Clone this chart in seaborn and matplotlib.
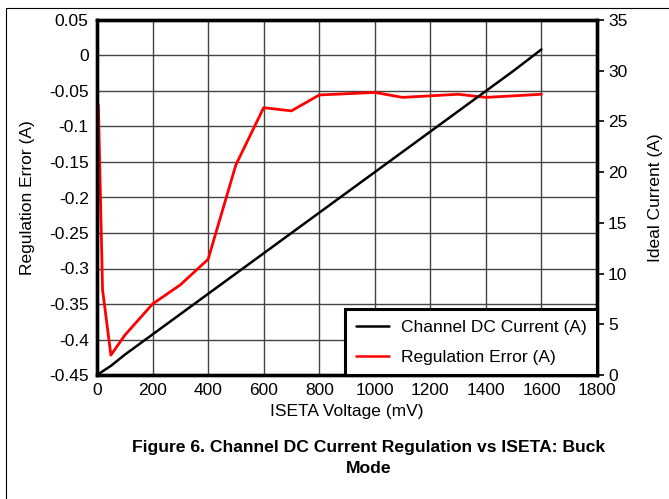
import matplotlib
matplotlib.use("Agg")
import matplotlib.pyplot as plt
import seaborn as sns
import pandas as pd
from matplotlib.lines import Line2D

sns.set_theme(style="white")
plt.rcParams['font.family'] = ['Liberation Sans', 'DejaVu Sans']
plt.rcParams['axes.unicode_minus'] = False
plt.rcParams['text.color'] = 'black'
plt.rcParams['axes.labelcolor'] = 'black'

# Data
err_mv = [5, 20, 50, 100, 200, 300, 400, 500, 600, 700, 800, 1000, 1100, 1300, 1400, 1600]
err_a = [-0.07, -0.33, -0.422, -0.394, -0.35, -0.323, -0.287, -0.154, -0.0735,
         -0.078, -0.0556, -0.052, -0.059, -0.0546, -0.059, -0.0546]
cur_mv = [0, 50, 100, 200, 300, 400, 500, 600, 700, 800, 900, 1000, 1100, 1200, 1300, 1400, 1500, 1600]
cur_a = [0, 0.9, 2, 4, 6, 8, 10, 12, 14, 16, 18, 20, 22, 24, 26, 28, 30, 32.1]

x_ticks = list(range(0, 1801, 200))
left_ticks = [0.05, 0, -0.05, -0.1, -0.15, -0.2, -0.25, -0.3, -0.35, -0.4, -0.45]
left_labels = ["0.05", "0", "-0.05", "-0.1", "-0.15", "-0.2", "-0.25", "-0.3", "-0.35", "-0.4", "-0.45"]
right_ticks = [0, 5, 10, 15, 20, 25, 30, 35]

df_err = pd.DataFrame({"mv": err_mv, "err": err_a})
df_cur = pd.DataFrame({"mv": cur_mv, "cur": cur_a})

fig = plt.figure(figsize=(6.69, 4.99), dpi=100)
ax = fig.add_axes([97/669, 1-375/499, 500/669, 355/499])
ax2 = ax.twinx()

sns.lineplot(data=df_err, x="mv", y="err", ax=ax, color="#ff0000", lw=2.0, sort=False)
sns.lineplot(data=df_cur, x="mv", y="cur", ax=ax2, color="black", lw=1.8, sort=False)

ax.set_xlim(0, 1800)
ax.set_ylim(-0.45, 0.05)
ax2.set_ylim(0, 35)
ax.set_xticks(x_ticks)
ax.set_xticklabels([str(t) for t in x_ticks])
ax.set_yticks(left_ticks)
ax.set_yticklabels(left_labels)
ax2.set_yticks(right_ticks)
ax2.set_yticklabels([str(t) for t in right_ticks])

ax.grid(True, color="#444444", lw=1.0)
ax.set_axisbelow(True)

fs = 12.5
ax.tick_params(axis='both', labelsize=fs, colors='black', length=0, pad=6)
ax2.tick_params(axis='y', labelsize=fs, colors='black', length=5, width=1.2,
                direction='out', pad=3, right=True)
ax.set_xlabel("ISETA Voltage (mV)", fontsize=fs, labelpad=4, color="black")
ax.set_ylabel("Regulation Error (A)", fontsize=fs, labelpad=10, color="black")
ax2.set_ylabel("Ideal Current (A)", fontsize=fs, labelpad=15, color="black")

for a in (ax, ax2):
    for s in a.spines.values():
        s.set_linewidth(2.4)
        s.set_color("black")

handles = [Line2D([0], [0], color="black", lw=1.8),
           Line2D([0], [0], color="#ff0000", lw=1.8)]
leg = ax2.legend(handles, ["Channel DC Current (A)", "Regulation Error (A)"],
                 loc="lower right", fontsize=fs, frameon=True, fancybox=False,
                 borderaxespad=0, handlelength=1.9, handletextpad=0.7,
                 borderpad=0.6, labelspacing=0.85)
leg.get_frame().set_edgecolor("black")
leg.get_frame().set_linewidth(2.2)
leg.get_frame().set_alpha(1)
for t in leg.get_texts():
    t.set_color("black")

fig.text(369/669, 1-458/499, "Figure 6. Channel DC Current Regulation vs ISETA: Buck\nMode",
         ha="center", va="center", fontsize=12.6, fontweight="bold", linespacing=1.55,
         color="black")

# partial frame around figure
fig.add_artist(Line2D([6/669, 1], [1-8/499, 1-8/499], color="black", lw=0.8, transform=fig.transFigure))
fig.add_artist(Line2D([6/669, 6/669], [0, 1-8/499], color="black", lw=0.8, transform=fig.transFigure))

fig.savefig("out.png", dpi=100)
